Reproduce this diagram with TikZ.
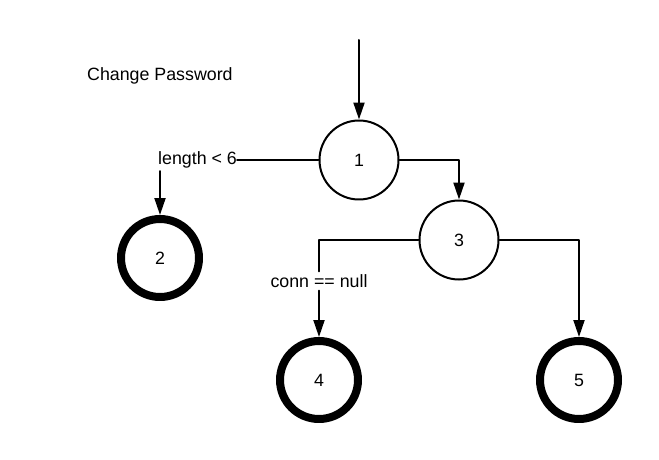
\documentclass[tikz,border=0pt]{standalone}
\usepackage{fontspec}
\setmainfont{Liberation Sans}
\usetikzlibrary{arrows.meta}
\usetikzlibrary{positioning}

\begin{document}
\begin{tikzpicture}[line cap=round,line join=round, x=1pt,y=-1pt,
  lbl/.style={inner sep=0pt, font=\fontsize{17.8}{20}\selectfont},
  state/.style={lbl, circle, draw, line width=2pt, minimum size=79pt},
  final/.style={lbl, circle, draw, line width=8pt, minimum size=78pt},
  edge/.style={line width=2pt},
  flow/.style={edge, -{Triangle[length=17pt, width=11pt]}}]
\useasboundingbox (0,0) rectangle (659,460);
\node[lbl, anchor=west] (title) at (87,75.5) {Change Password};
\coordinate (start) at (359,40);
\node[state] (n1) at (359,160) {1};
\node[final] (n2) at (160,258) {2};
\node[state] (n3) at (459,240) {3};
\node[final] (n4) at (319,380) {4};
\node[final] (n5) at (579,380) {5};
\node[lbl, anchor=west, text height=12.5pt, text depth=3.5pt] (len) at (158,160) {length < 6};
\node[lbl, inner sep=3pt] (cond) at (319,281) {conn == null};
\draw [flow] (start) -- (n1);
\draw [edge] (n1.west) -- (len.east);
\draw [flow] ([yshift=-3pt]len.south -| n2.north) -- (n2.north);
\draw [flow] (n1.east) -| (n3.north);
\draw [edge] (n3.west) -| (cond.north);
\draw [flow] (cond.south) -- (n4.north);
\draw [flow] (n3.east) -| (n5.north);
\end{tikzpicture}
\end{document}
